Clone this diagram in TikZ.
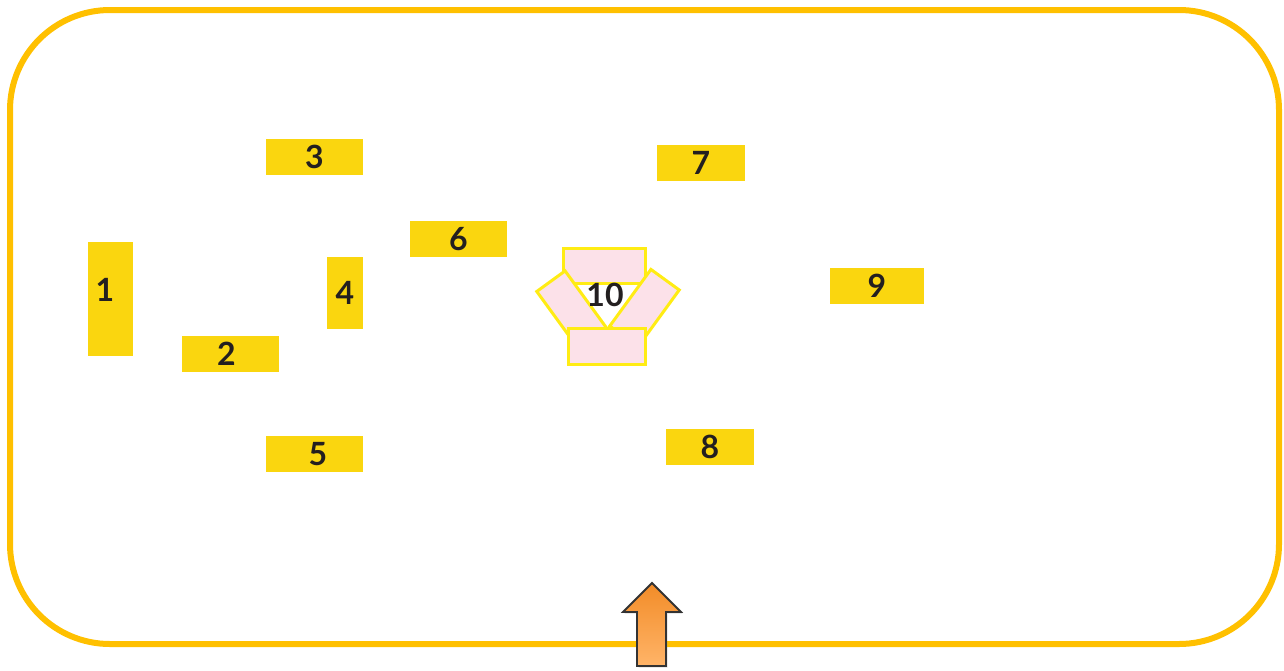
\documentclass[tikz,border=0pt]{standalone}
\usepackage{fontspec}
\setmainfont{Lato}
\usetikzlibrary{shadows}
\definecolor{wallorange}{HTML}{FFC000}
\definecolor{roomyellow}{HTML}{FAD60F}
\definecolor{seatpink}{HTML}{FCE1E9}
\definecolor{seatyellow}{HTML}{FFEC14}
\definecolor{labelgray}{HTML}{231F20}
\definecolor{entrytop}{HTML}{F28C28}
\definecolor{entrybottom}{HTML}{FFB468}
\tikzset{
    plan_wall/.style={
        draw=wallorange,
        line width=6pt,
        rounded corners=100pt
    },
    plan_num/.style={
        text=labelgray,
        font=\bfseries\fontsize{32}{32}\selectfont,
        inner sep=0pt
    },
    plan_room/.style={
        rectangle,
        fill=roomyellow,
        inner sep=0pt,
        plan_num
    },
    plan_seat/.style={
        rectangle,
        draw=seatyellow,
        fill=seatpink,
        line width=3pt,
        inner sep=0pt
    },
    plan_entry/.style={
        draw=black!80,
        line width=1.8pt,
        line join=miter,
        top color=entrytop,
        bottom color=entrybottom,
        drop shadow={opacity=0.25, shadow xshift=1.5pt, shadow yshift=-1.5pt}
    }
}

\begin{document}
\begin{tikzpicture}[x=1pt, y=-1pt]
\useasboundingbox (0,0) rectangle (1284,670);

% outer wall
\draw[plan_wall] (10,10) rectangle (1279,644);

% rooms
\node[plan_room, minimum width=45pt, minimum height=114pt,
  label={[plan_num, xshift=-5.5pt, yshift=9pt]center:1}] (room1) at (110.5,299) {};
\node[plan_room, minimum width=97pt, minimum height=36pt,
  label={[plan_num, xshift=-4pt]center:2}] (room2) at (230.5,354) {};
\node[plan_room, minimum width=97pt, minimum height=36pt] (room3) at (314.5,157) {3};
\node[plan_room, minimum width=36pt, minimum height=72pt] (room4) at (345,293) {4};
\node[plan_room, minimum width=97pt, minimum height=36pt,
  label={[plan_num, xshift=3.5pt]center:5}] (room5) at (314.5,454) {};
\node[plan_room, minimum width=97pt, minimum height=36pt] (room6) at (458.5,239) {6};
\node[plan_room, minimum width=88pt, minimum height=36pt] (room7) at (701,163) {7};
\node[plan_room, minimum width=88pt, minimum height=36pt] (room8) at (710,447) {8};
\node[plan_room, minimum width=94pt, minimum height=36pt] (room9) at (877,286) {9};

% seating group 10
\node[plan_seat, minimum width=82pt, minimum height=35pt] (seatTop) at (604,265.5) {};
\node[plan_seat, minimum width=70pt, minimum height=35pt, rotate=-54] (seatLeft) at (571.5,309.5) {};
\node[plan_seat, minimum width=70pt, minimum height=35pt, rotate=54] (seatRight) at (644.5,308) {};
\node[plan_seat, minimum width=77pt, minimum height=36pt] (seatBottom) at (606.5,346) {};
\node[plan_num] (room10) at (605,295) {10};

% entrance
\draw[plan_entry] (652,583) -- (681,612) -- (666,612) -- (666,666)
  -- (637,666) -- (637,612) -- (623,612) -- cycle;

\end{tikzpicture}
\end{document}
